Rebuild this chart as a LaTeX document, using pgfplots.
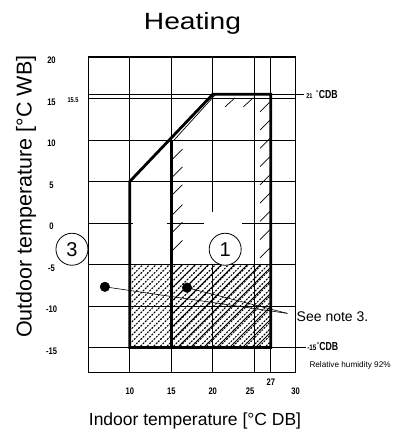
\documentclass[border=0pt]{standalone}
\usepackage{fontspec}
\setmainfont{Liberation Sans}
\usepackage{graphicx}
\usepackage{pgfplots}
\pgfplotsset{compat=1.18}
\usetikzlibrary{patterns}

\newcommand\tk[1]{\scalebox{0.8}[1]{\fontsize{9.5}{10}\selectfont\bfseries #1}}

\pgfdeclarepatternformonly{diagdots}{\pgfqpoint{-1pt}{-1pt}}{\pgfqpoint{7.6pt}{7.6pt}}{\pgfqpoint{6.6pt}{6.6pt}}{%
  \pgfsetlinewidth{1.15pt}%
  \pgfsetroundcap
  \pgfpathmoveto{\pgfqpoint{0pt}{0pt}}\pgfpathlineto{\pgfqpoint{0.9pt}{0.9pt}}%
  \pgfpathmoveto{\pgfqpoint{2.2pt}{2.2pt}}\pgfpathlineto{\pgfqpoint{3.1pt}{3.1pt}}%
  \pgfpathmoveto{\pgfqpoint{4.4pt}{4.4pt}}\pgfpathlineto{\pgfqpoint{5.3pt}{5.3pt}}%
  \pgfusepath{stroke}}
\pgfdeclarepatternformonly{sparselines}{\pgfqpoint{-1pt}{-1pt}}{\pgfqpoint{14pt}{14pt}}{\pgfqpoint{13pt}{13pt}}{%
  \pgfsetlinewidth{0.75pt}%
  \pgfpathmoveto{\pgfqpoint{-0.5pt}{-0.5pt}}%
  \pgfpathlineto{\pgfqpoint{13.5pt}{13.5pt}}%
  \pgfusepath{stroke}}

\begin{document}
\begin{tikzpicture}
\path[use as bounding box] (-88.3pt,-61.7pt) rectangle (303.7pt,372.3pt);
\begin{axis}[
  at={(0,0)}, anchor=south west,
  scale only axis, width=207.4pt, height=315.3pt,
  xmin=5, xmax=30, ymin=-18, ymax=20,
  clip=false,
  axis line style={line width=1.1pt},
  major tick length=0pt,
  xtick={10,15,20,25,30},
  xticklabels={\tk{10},\tk{15},\tk{20},\tk{25}\kern8pt,\tk{30}},
  extra x ticks={27},
  extra x tick labels={\tk{27}},
  extra x tick style={xticklabel style={yshift=10pt}},
  ytick={-15,-10,-5,0,5,10,15,20},
  yticklabels={\tk{-15},\tk{-10},\tk{-5},\tk{0},\tk{5},\tk{10},\tk{15},\tk{20}},
  xticklabel style={anchor=center, inner sep=0pt, yshift=-19.4pt},
  yticklabel style={anchor=center, inner sep=0pt, xshift=-36.8pt, yshift=-3.5pt},
  title={\scalebox{1.2}[1]{\fontsize{23.5}{24}\selectfont Heating}},
  every axis title/.style={at={(axis description cs:0.5024,1.0888)}, anchor=base},
  xlabel={\fontsize{17.5}{18}\selectfont Indoor temperature [°C DB]},
  every axis x label/.style={at={(axis description cs:0.5145,-0.16936)}, anchor=base},
  ylabel={\fontsize{21.5}{22}\selectfont Outdoor temperature [°C WB]},
  every axis y label/.style={at={(axis description cs:-0.2729,0.557)}, rotate=90, anchor=base},
]
% hatched areas
\addplot[draw=none, pattern=diagdots] coordinates {(10,-15) (27,-15) (27,-5) (10,-5) (10,-15)};
\addplot[draw=none, pattern=sparselines] coordinates {(15,-15) (27,-15) (27,-5) (15,-5) (15,-15)};

% grid lines
\addplot[black, line width=0.75pt, unbounded coords=jump] coordinates {
  (5,15.5) (30,15.5) (inf,inf)
  (5,15) (30,15) (inf,inf)
  (5,10) (30,10) (inf,inf)
  (5,5) (30,5) (inf,inf)
  (5,0) (10.4,0) (inf,inf)
  (14.5,0) (18.9,0) (inf,inf)
  (23.5,0) (30,0) (inf,inf)
  (5,-5) (30,-5) (inf,inf)
  (5,-10) (30,-10) (inf,inf)
  (5,-15) (30,-15) (inf,inf)
  (10,-18) (10,20) (inf,inf)
  (15,-18) (15,20) (inf,inf)
  (20,20) (20,1.3) (inf,inf)
  (20,-5) (20,-18) (inf,inf)
  (25,-18) (25,20) (inf,inf)
  (27,-18) (27,20)
};

% sparse hatch ticks
\addplot[black, line width=0.7pt, unbounded coords=jump] coordinates {
  (15.15,7.7) (16.35,8.9) (inf,inf)
  (15.15,5.55) (16.35,6.75) (inf,inf)
  (15.15,3.4) (16.35,4.6) (inf,inf)
  (15.15,1.0) (16.35,2.2) (inf,inf)
  (15.15,-1.1) (16.35,0.1) (inf,inf)
  (15.15,-3.3) (16.35,-2.1) (inf,inf)
  (25.7,13.4) (26.9,14.6) (inf,inf)
  (25.7,11.2) (26.9,12.4) (inf,inf)
  (25.7,9.0) (26.9,10.2) (inf,inf)
  (25.7,6.8) (26.9,8.0) (inf,inf)
  (25.7,4.6) (26.9,5.8) (inf,inf)
  (25.7,2.4) (26.9,3.6) (inf,inf)
  (25.7,0.2) (26.9,1.4) (inf,inf)
  (25.7,-2.0) (26.9,-0.8) (inf,inf)
  (25.7,-4.2) (26.9,-3.0) (inf,inf)
  (21.5,14.0) (22.7,15.1) (inf,inf)
  (23.7,14.0) (24.9,15.1)
};

% thin parallel diagonal
\addplot[black, line width=0.7pt] coordinates {(15.35,10) (20.35,15.5)};

% thick outlines
\addplot[black, line width=2.8pt, line join=miter] coordinates {(15,-15) (10,-15) (10,5) (20,15.5) (27,15.5) (27,-15) (15,-15)};
\addplot[black, line width=2.8pt] coordinates {(15,-15) (15,10)};

% pointer lines right
\addplot[black, line width=0.8pt] coordinates {(30,15.5) (31.0,15.5)};
\addplot[black, line width=0.8pt] coordinates {(30,-15) (31.2,-15)};

% leader lines and dots
\addplot[black, line width=0.6pt] coordinates {(7,-7.7) (29,-10.9)};
\addplot[black, line width=0.6pt] coordinates {(16.9,-7.8) (29,-10.9)};
\addplot[only marks, mark=*, mark size=4.8pt, black] coordinates {(7,-7.7) (16.9,-7.8)};

% circled labels
\node[draw, circle, line width=0.8pt, minimum size=32pt, inner sep=0pt, fill=white,
      font=\fontsize{20}{20}\selectfont] at (axis cs:3.03,-3.17) {3};
\node[draw, circle, line width=0.8pt, minimum size=32pt, inner sep=0pt, fill=white,
      font=\fontsize{20}{20}\selectfont] at (axis cs:21.5,-3.17) {1};

% annotations
\node[inner sep=0pt] at (axis cs:3.15,14.81) {\scalebox{0.8}[1]{\fontsize{7}{7}\selectfont\bfseries 15.5}};
\node[anchor=base west, inner sep=0pt] at (axis cs:31.25,15.0)
  {\scalebox{0.8}[1]{\fontsize{7}{7}\selectfont\bfseries 21}\hspace{3.5pt}\raisebox{2.5pt}{\fontsize{7}{7}\selectfont °}\scalebox{0.75}[1]{\fontsize{11.6}{12}\selectfont\bfseries CDB}};
\node[anchor=base west, inner sep=0pt] at (axis cs:31.37,-15.36)
  {\scalebox{0.8}[1]{\fontsize{8}{8}\selectfont\bfseries -15}\raisebox{2.5pt}{\fontsize{7}{7}\selectfont °}\scalebox{0.75}[1]{\fontsize{11.6}{12}\selectfont\bfseries CDB}};
\node[anchor=base west, inner sep=0pt] at (axis cs:30.1,-11.83) {\fontsize{14}{14}\selectfont See note 3.};
\node[anchor=base west, inner sep=0pt] at (axis cs:31.64,-17.41) {\fontsize{8.2}{9}\selectfont Relative humidity 92\%};
\end{axis}
\end{tikzpicture}
\end{document}
